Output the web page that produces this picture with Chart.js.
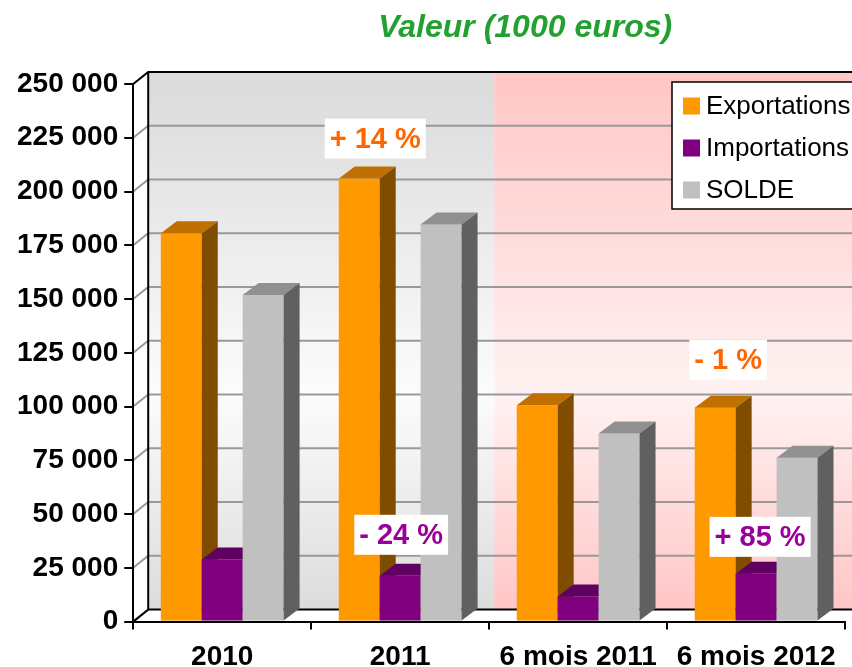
<!DOCTYPE html>
<html>
<head>
<meta charset="utf-8">
<script src="https://cdn.jsdelivr.net/npm/chart.js@4"></script>
<style>
  html, body { margin: 0; padding: 0; background: #fff; }
</style>
</head>
<body>
<canvas id="bar-chart-valeur" width="852" height="667"></canvas>
<script>
// Data (1000 euros)
const categories = ["2010", "2011", "6 mois 2011", "6 mois 2012"];
const exportations = [180600, 206000, 100600, 99500];
const importations = [28900, 21300, 11700, 22200];
const solde = [151900, 184700, 87500, 76200];
const yTickLabels = ["0", "25 000", "50 000", "75 000", "100 000", "125 000",
  "150 000", "175 000", "200 000", "225 000", "250 000"];
const yStep = 25000;

// percentage notes: text, series index, category index
const noteTexts = ["+ 14 %", "- 24 %", "- 1 %", "+ 85 %"];
const noteSeries = [0, 1, 0, 1];
const noteCats = [1, 1, 3, 3];

const titleText = "Valeur (1000 euros)";

// styles
const FONT = '"Liberation Sans", Arial, sans-serif';
const faceColors = [
  ["#FF9900", "#C07000", "#7F4C00"], // Exportations
  ["#800080", "#600060", "#400040"], // Importations
  ["#C0C0C0", "#909090", "#606060"], // SOLDE
];
const noteColors = ["#FF6600", "#990099"];
const noteShift = [[16, -40], [1, -41], [13, -48], [4, -37]];
const DX = 16, DY = 12;   // bar depth
const WX = 15, WY = 12;   // wall depth

function drawBox(ctx, x, top, base, w, cols) {
  const l = x - w / 2, r = x + w / 2;
  ctx.fillStyle = cols[0];
  ctx.fillRect(l, top, w, base - top);
  ctx.fillStyle = cols[1];
  ctx.beginPath();
  ctx.moveTo(l, top); ctx.lineTo(l + DX, top - DY);
  ctx.lineTo(r + DX, top - DY); ctx.lineTo(r, top);
  ctx.closePath(); ctx.fill();
  ctx.fillStyle = cols[2];
  ctx.beginPath();
  ctx.moveTo(r, top); ctx.lineTo(r + DX, top - DY);
  ctx.lineTo(r + DX, base - DY); ctx.lineTo(r, base);
  ctx.closePath(); ctx.fill();
}

const walls3d = {
  id: "walls3d",
  beforeDraw(chart) {
    const ctx = chart.ctx, a = chart.chartArea;
    const y = chart.scales.y, x = chart.scales.x;
    const W = chart.width;
    const bx = a.left + WX, by = a.top - WY, bb = a.bottom - WY;
    const split = x.getPixelForValue(1.5) + 5;
    ctx.save();
    // back wall, grey part
    let g = ctx.createLinearGradient(0, by, 0, bb);
    g.addColorStop(0, "#DADADA");
    g.addColorStop(0.6, "#FCFCFC");
    g.addColorStop(1, "#DCDCDC");
    ctx.fillStyle = g;
    ctx.fillRect(bx, by, split - bx, bb - by);
    // back wall, pink part
    g = ctx.createLinearGradient(0, by, 0, bb);
    g.addColorStop(0, "#FFC6C6");
    g.addColorStop(0.6, "#FFF2F2");
    g.addColorStop(1, "#FFC6C6");
    ctx.fillStyle = g;
    ctx.fillRect(split, by, W - split, bb - by);
    // side wall + floor
    ctx.fillStyle = "#fff";
    ctx.beginPath();
    ctx.moveTo(a.left, a.top); ctx.lineTo(bx, by); ctx.lineTo(bx, bb); ctx.lineTo(a.left, a.bottom);
    ctx.closePath(); ctx.fill();
    ctx.beginPath();
    ctx.moveTo(a.left, a.bottom); ctx.lineTo(bx, bb); ctx.lineTo(W, bb); ctx.lineTo(W, a.bottom);
    ctx.closePath(); ctx.fill();
    // grid lines
    ctx.strokeStyle = "#999";
    ctx.lineWidth = 2;
    for (let i = 1; i < yTickLabels.length - 1; i++) {
      const py = y.getPixelForValue(i * yStep);
      ctx.beginPath();
      ctx.moveTo(a.left, py); ctx.lineTo(bx, py - WY); ctx.lineTo(W, py - WY);
      ctx.stroke();
    }
    // edges
    ctx.strokeStyle = "#000";
    ctx.beginPath();
    ctx.moveTo(a.left, a.top); ctx.lineTo(bx, by); ctx.lineTo(W, by);
    ctx.moveTo(bx, by); ctx.lineTo(bx, bb); ctx.lineTo(W, bb);
    ctx.moveTo(a.left, a.bottom); ctx.lineTo(bx, bb);
    ctx.stroke();
    ctx.restore();
  },
  beforeDatasetsDraw(chart) {
    const ctx = chart.ctx;
    const metas = chart.data.datasets.map((d, i) => chart.getDatasetMeta(i));
    ctx.save();
    for (let c = 0; c < categories.length; c++) {
      metas.forEach((m, d) => {
        const el = m.data[c];
        drawBox(ctx, el.x, el.y, el.base, el.width, faceColors[d]);
      });
    }
    ctx.restore();
    return false;
  },
  afterDraw(chart) {
    const ctx = chart.ctx, a = chart.chartArea;
    ctx.save();
    // title
    ctx.font = "italic bold 32px " + FONT;
    ctx.fillStyle = "#22A030";
    ctx.textAlign = "center";
    ctx.textBaseline = "middle";
    ctx.fillText(titleText, (a.left + a.right) / 2 + 36, 28);
    // notes
    ctx.font = "bold 29px " + FONT;
    noteTexts.forEach((t, i) => {
      const el = chart.getDatasetMeta(noteSeries[i]).data[noteCats[i]];
      const cx = el.x + noteShift[i][0], cy = el.y + noteShift[i][1];
      const w = ctx.measureText(t).width + 10, h = 40;
      ctx.fillStyle = "#fff";
      ctx.fillRect(cx - w / 2, cy - h / 2, w, h);
      ctx.fillStyle = noteColors[noteSeries[i]];
      ctx.fillText(t, cx, cy + 1);
    });
    // legend
    const lx = 672, ly = 82, lh = 127;
    ctx.fillStyle = "#fff";
    ctx.fillRect(lx, ly, chart.width - lx + 5, lh);
    ctx.strokeStyle = "#000";
    ctx.lineWidth = 1.5;
    ctx.strokeRect(lx, ly, chart.width - lx + 5, lh);
    ctx.font = "26px " + FONT;
    ctx.textAlign = "left";
    chart.data.datasets.forEach((d, i) => {
      const cy = ly + 24 + i * 42;
      ctx.fillStyle = d.backgroundColor;
      ctx.fillRect(lx + 11, cy - 8.5, 17, 17);
      ctx.fillStyle = "#000";
      ctx.fillText(d.label, lx + 34, cy + 1);
    });
    ctx.restore();
  },
};

new Chart(document.getElementById("bar-chart-valeur"), {
  type: "bar",
  data: {
    labels: categories,
    datasets: [
      { label: "Exportations", data: exportations, backgroundColor: faceColors[0][0] },
      { label: "Importations", data: importations, backgroundColor: faceColors[1][0] },
      { label: "SOLDE", data: solde, backgroundColor: faceColors[2][0] },
    ],
  },
  options: {
    responsive: false,
    animation: false,
    events: [],
    categoryPercentage: 0.69,
    barPercentage: 1,
    layout: { padding: { left: 11, top: 84, right: 4, bottom: -17 } },
    plugins: {
      legend: { display: false },
      title: { display: false },
      tooltip: { enabled: false },
    },
    scales: {
      x: {
        grid: { drawOnChartArea: false, color: "#000", lineWidth: 2, tickLength: 8 },
        border: { color: "#000", width: 2 },
        ticks: {
          color: "#000",
          padding: 16,
          maxRotation: 0,
          autoSkip: false,
          font: { family: FONT, size: 28, weight: "bold", lineHeight: 0.8 },
        },
      },
      y: {
        min: 0,
        max: 250000,
        grid: { drawOnChartArea: false, color: "#000", lineWidth: 2, tickLength: 9 },
        border: { color: "#000", width: 2 },
        ticks: {
          stepSize: yStep,
          color: "#000",
          padding: 6,
          font: { family: FONT, size: 28, weight: "bold" },
          callback: (v) => yTickLabels[Math.round(v / yStep)],
        },
      },
    },
  },
  plugins: [walls3d],
});
</script>
</body>
</html>
